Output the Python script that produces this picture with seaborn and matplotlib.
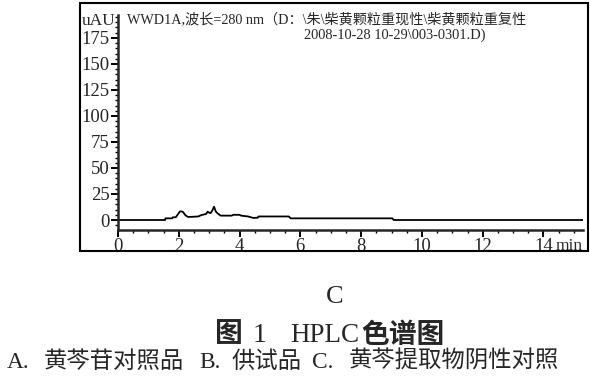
import numpy as np
import pandas as pd
import matplotlib
matplotlib.use("Agg")
import matplotlib.pyplot as plt
import seaborn as sns
from matplotlib.patches import Rectangle
from matplotlib.ticker import MultipleLocator

# chromatogram C: retention time (min) vs signal (uAU)
time_min = [0.0, 1.55, 1.56, 1.78, 1.80, 1.90, 2.04, 2.13, 2.22, 2.30, 2.40, 2.64,
            2.75, 2.90, 2.95, 3.00, 3.05, 3.10, 3.16, 3.22, 3.30, 3.38, 3.74, 3.80,
            4.00, 4.05, 4.28, 4.45, 4.60, 4.62, 5.62, 5.68, 9.03, 9.07, 15.3]
signal = [0.0, 0.0, 1.6, 1.6, 2.6, 2.6, 8.3, 8.0, 4.5, 3.0, 3.0, 3.4,
          4.8, 5.8, 8.0, 7.0, 6.7, 9.0, 12.8, 8.0, 5.8, 4.2, 4.2, 5.0,
          5.0, 4.2, 3.4, 2.0, 2.2, 3.4, 3.4, 1.6, 1.6, 0.0, 0.0]

header1 = "WWD1A,波长=280 nm（D：\\朱\\柴黄颗粒重现性\\柴黄颗粒重复性"
header2 = "2008-10-28 10-29\\003-0301.D)"
panel = "C"
# title and caption pieces with their left edges (px)
title_parts = [("图", 215, "bold", 20), ("1", 253, "normal", 20),
               ("HPLC", 290, "normal", 19.5), ("色谱图", 361, "bold", 20)]
caption_parts = [("A.", 7), ("黄芩苷对照品", 44), ("B.", 199), ("供试品", 232),
                 ("C.", 312), ("黄芩提取物阴性对照", 349)]

sns.set_style("ticks")
fam = ['Liberation Serif', 'Noto Sans CJK SC', 'DejaVu Sans']
plt.rcParams['font.family'] = fam

df = pd.DataFrame({"time": time_min, "signal": signal})

fig = plt.figure(figsize=(5.9, 3.76), dpi=100)
ax = fig.add_axes([118/590, 1-230/376, (583-118)/590, (230-15)/376])

sns.lineplot(data=df, x="time", y="signal", estimator=None, sort=False,
             color="black", linewidth=1.3, ax=ax)

ax.set_xlim(0, 15.3)
ax.set_ylim(-9.6, 197)
ax.xaxis.set_major_locator(MultipleLocator(2))
ax.xaxis.set_minor_locator(MultipleLocator(0.5))
ax.yaxis.set_major_locator(MultipleLocator(25))
ax.yaxis.set_minor_locator(MultipleLocator(5))
ax.set_yticks(np.arange(0, 176, 25))
ax.set_xticks(np.arange(0, 15, 2))
for s in ["top", "right"]:
    ax.spines[s].set_visible(False)
for s in ["left", "bottom"]:
    ax.spines[s].set_linewidth(1.8)
ax.tick_params(which="major", length=5, width=1.4, labelsize=13.5, pad=1, color="black")
ax.tick_params(which="minor", length=2.5, width=1.0, color="black")
ax.set_xlabel("")
ax.set_ylabel("")

ax.text(-0.005, 191, "uAU", transform=ax.get_yaxis_transform(), ha="right",
        va="center", fontsize=12.5, family=fam)
ax.text(1.0, -0.075, "min", transform=ax.transAxes, ha="right", va="center",
        fontsize=12.5, family=fam)
ax.text(0.02, 192, header1, transform=ax.get_yaxis_transform(), ha="left",
        va="center", fontsize=10.2, family=fam)
ax.text(0.4, 178, header2, transform=ax.get_yaxis_transform(), ha="left",
        va="center", fontsize=10.4, family=fam)

# outer frame
fig.patches.append(Rectangle((80/590, 1-251/376), (588-80)/590, (251-3)/376,
                             transform=fig.transFigure, fill=False,
                             edgecolor="black", linewidth=1.5))

fig.text(335/590, 1-297/376, panel, ha="center", va="center", fontsize=19, family=fam)
for txt, x0, wt, fs in title_parts:
    fig.text(x0/590, 1-336/376, txt, ha="left", va="center", fontsize=fs,
             fontweight=wt, family=fam)
for txt, x0 in caption_parts:
    fig.text(x0/590, 1-362/376, txt, ha="left", va="center", fontsize=16.8, family=fam)

fig.savefig("out.png", dpi=100)
